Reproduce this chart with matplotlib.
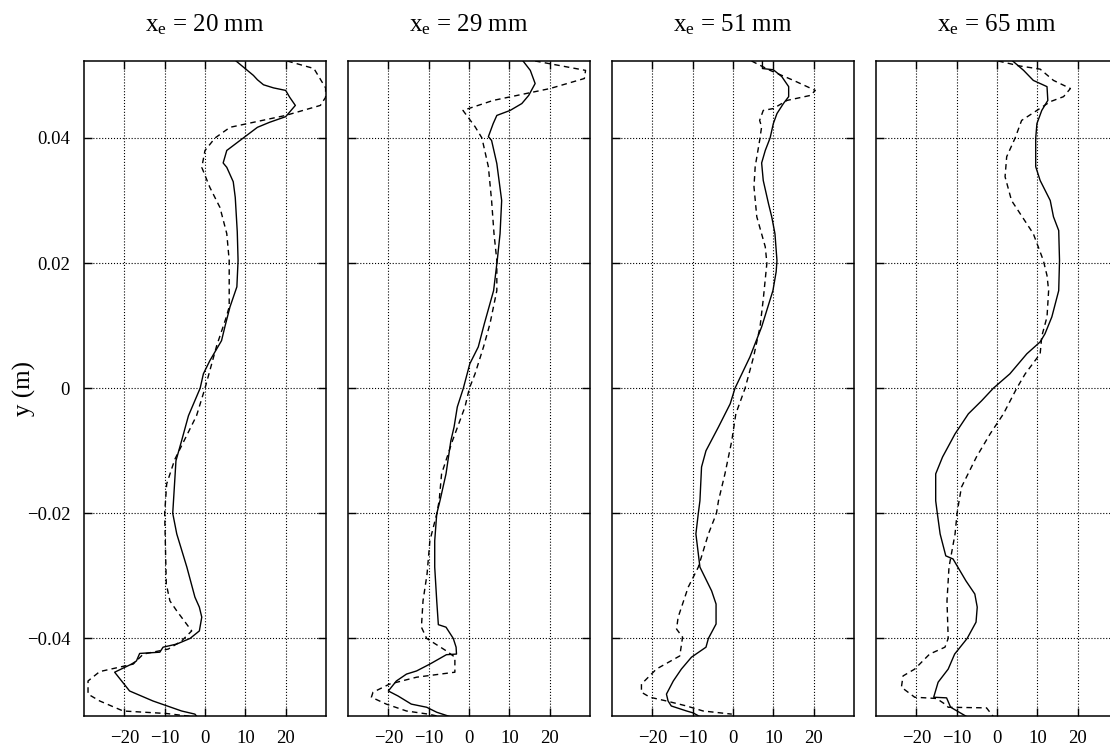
import matplotlib
matplotlib.use('Agg')
import matplotlib.pyplot as plt

plt.rcParams['font.family'] = ['Liberation Serif', 'DejaVu Serif']
plt.rcParams['mathtext.fontset'] = 'custom'
plt.rcParams['mathtext.rm'] = 'Liberation Serif'
plt.rcParams['mathtext.it'] = 'Liberation Serif:italic'

titles = ['x$_\\mathrm{e}$ = 20 mm', 'x$_\\mathrm{e}$ = 29 mm',
          'x$_\\mathrm{e}$ = 51 mm', 'x$_\\mathrm{e}$ = 65 mm']
xticks = [-20, -10, 0, 10, 20]
xtick_labels = ['\u221220', '\u221210', '0', '10', '20']
yticks = [-0.04, -0.02, 0, 0.02, 0.04]
ytick_labels = ['\u22120.04', '\u22120.02', '0', '0.02', '0.04']

# panel 1 (x_e = 20 mm)
y1_solid = [0.0523, 0.0500, 0.0493, 0.0485, 0.0480, 0.0476, 0.0465, 0.0452, 0.0434, 0.0425,
            0.0417, 0.0400, 0.0380, 0.0360, 0.0353, 0.0330, 0.0305, 0.0250, 0.0204, 0.0162,
            0.0130, 0.0100, 0.0076, 0.0044, 0.0023, 0.0000, -0.0044, -0.0084, -0.0116, -0.0200,
            -0.0233, -0.0286, -0.0334, -0.0350, -0.0366, -0.0388, -0.0400, -0.0409, -0.0414,
            -0.0422, -0.0424, -0.0436, -0.0441, -0.0454, -0.0484, -0.0500, -0.0516, -0.0521, -0.0525]
x1_solid = [7.7, 12, 13, 14.5, 17, 20, 21, 22.4, 20, 16,
            13, 9.5, 5.4, 4.5, 5.4, 7.0, 7.5, 8.0, 8.2, 7.9,
            6.2, 5.0, 4.1, 1.2, -0.4, -1.2, -4.1, -5.8, -7.2, -8.0,
            -7.0, -4.5, -2.5, -1.4, -0.8, -1.4, -3.7, -7.0, -10.4,
            -11.2, -16.2, -17.0, -18.2, -22.4, -18.7, -12.9, -5.8, -2.5, -2.0]
y1_dash = [0.0523, 0.0511, 0.0480, 0.0465, 0.0452, 0.0436, 0.0417, 0.0400, 0.0380, 0.0353,
           0.0321, 0.0289, 0.0247, 0.0204, 0.0162, 0.0130, 0.0110, 0.0068, 0.0000, -0.0044,
           -0.0114, -0.0153, -0.0200, -0.0313, -0.0340, -0.0356, -0.0388, -0.0404, -0.0417,
           -0.0425, -0.0441, -0.0453, -0.0468, -0.0489, -0.0500, -0.0516, -0.0520, -0.0525]
x1_dash = [20.4, 27, 29.9, 29.9, 28.6, 20, 6.2, 2.5, 0, -0.8,
           1.2, 3.7, 5.4, 6.0, 6.0, 6.0, 5.1, 2.9, 0, -2.1,
           -7.5, -9.5, -10, -9.6, -8.7, -7.0, -3.3, -5.8, -9.1,
           -15.3, -17.8, -26.1, -29, -29, -26.1, -20.3, -9.6, -3]

# panel 2 (x_e = 29 mm)
y2_solid = [0.0523, 0.0508, 0.0487, 0.0468, 0.0455, 0.0444, 0.0436, 0.0423, 0.0402, 0.0396,
            0.0359, 0.0300, 0.0247, 0.0204, 0.0156, 0.0103, 0.0066, 0.0039, 0.0000, -0.0030,
            -0.0062, -0.0084, -0.0137, -0.0180, -0.0201, -0.0244, -0.0286, -0.0340, -0.0378,
            -0.0382, -0.0400, -0.0414, -0.0425, -0.0426, -0.0441, -0.0452, -0.0457, -0.0468,
            -0.0484, -0.0492, -0.0505, -0.0510, -0.0518, -0.0525]
x2_solid = [13.4, 15.2, 16.4, 14.8, 13.1, 10.2, 6.9, 6.0, 4.8, 5.6,
            6.9, 8.1, 7.7, 7.0, 6.1, 3.8, 2.3, 0.2, -1.4, -2.9,
            -3.7, -4.5, -5.7, -7.2, -8.0, -8.5, -8.5, -8.0, -7.6,
            -5.7, -3.9, -3.2, -3.1, -5.6, -9.7, -13, -15.5, -18,
            -20, -17.6, -14.3, -10.5, -8, -4.7]
y2_dash = [0.0523, 0.0508, 0.0495, 0.0479, 0.0460, 0.0444, 0.0418, 0.0400, 0.0354, 0.0300,
           0.0247, 0.0204, 0.0156, 0.0103, 0.0066, 0.0023, 0.0000, -0.0030, -0.0084, -0.0137,
           -0.0180, -0.0201, -0.0244, -0.0297, -0.0340, -0.0382, -0.0400, -0.0420, -0.0430,
           -0.0454, -0.0462, -0.0473, -0.0486, -0.0494, -0.0505, -0.0516, -0.0521, -0.0525]
x2_dash = [16.4, 28.9, 28.6, 20.1, 6.0, -1.5, 1.5, 3.2, 4.8, 5.6,
           6.2, 6.9, 6.9, 5.2, 3.6, 1.5, 0.1, -1.0, -4.1, -6.8,
           -7.4, -8.0, -9.7, -10.4, -11.4, -11.8, -10.5, -5.6, -3.5,
           -3.5, -13, -19.7, -23.8, -24.2, -20.5, -15.5, -10.1, -7.2]

# panel 3 (x_e = 51 mm)
y3_solid = [0.0523, 0.0511, 0.0509, 0.0498, 0.0482, 0.0466, 0.0455, 0.0439, 0.0423, 0.0400,
            0.0380, 0.0360, 0.0332, 0.0295, 0.0274, 0.0247, 0.0204, 0.0186, 0.0156, 0.0098,
            0.0050, 0.0000, -0.0025, -0.0062, -0.0100, -0.0126, -0.0180, -0.0200, -0.0233,
            -0.0286, -0.0324, -0.0345, -0.0377, -0.0400, -0.0414, -0.0430, -0.0449, -0.0468,
            -0.0489, -0.0500, -0.0508, -0.0516, -0.0519, -0.0525]
x3_solid = [7.3, 7.3, 10, 12.1, 13.8, 13.8, 12.5, 10.9, 10, 9.2,
            8.0, 7.1, 7.5, 8.8, 9.6, 10.4, 10.9, 10.7, 9.9, 7.1,
            4.2, 0.5, -0.7, -3.6, -6.7, -7.8, -8.2, -8.6, -9.2,
            -8.2, -5.3, -4.2, -4.2, -6.1, -6.7, -10.3, -12.8, -14.8,
            -16.5, -16.1, -15.3, -11.5, -9.9, -8.2]
y3_dash = [0.0523, 0.0508, 0.0492, 0.0476, 0.0468, 0.0460, 0.0447, 0.0444, 0.0428, 0.0418,
           0.0396, 0.0354, 0.0322, 0.0274, 0.0226, 0.0200, 0.0142, 0.0098, 0.0050, 0.0000,
           -0.0041, -0.0084, -0.0137, -0.0180, -0.0200, -0.0233, -0.0286, -0.0318, -0.0366,
           -0.0385, -0.0398, -0.0428, -0.0449, -0.0473, -0.0486, -0.0494, -0.0500, -0.0508,
           -0.0516, -0.0521]
x3_dash = [4.6, 9.2, 15, 20.4, 19.2, 13.4, 10, 7.5, 6.6, 7.1,
           6.6, 5.5, 5.2, 5.9, 8.0, 8.4, 7.5, 6.7, 5.1, 3.0,
           0.7, -0.3, -2.0, -3.6, -4.1, -6.1, -8.6, -11.1, -13.6,
           -14, -12.5, -13.2, -19, -22.7, -22.7, -20.6, -16.5, -11.5,
           -7.4, -0.3]

# panel 4 (x_e = 65 mm)
y4_solid = [0.0523, 0.0508, 0.0492, 0.0482, 0.0460, 0.0444, 0.0423, 0.0400, 0.0354, 0.0332,
            0.0300, 0.0274, 0.0252, 0.0204, 0.0156, 0.0114, 0.0087, 0.0074, 0.0055, 0.0023,
            0.0000, -0.0020, -0.0041, -0.0073, -0.0110, -0.0137, -0.0180, -0.0200, -0.0233,
            -0.0268, -0.0273, -0.0308, -0.0329, -0.0350, -0.0374, -0.0400, -0.0425, -0.0449,
            -0.0470, -0.0494, -0.0495, -0.0510, -0.0525]
x4_solid = [3.9, 6.6, 9.0, 12.4, 12.6, 11.1, 9.9, 9.6, 9.6, 10.7,
            13.2, 14.0, 15.3, 15.5, 15.3, 13.6, 11.9, 10.7, 7.4, 3.2,
            -0.9, -3.8, -7.1, -10.4, -13.5, -15.2, -15.2, -14.8, -14.1,
            -12.7, -10.9, -7.7, -5.5, -4.9, -5.2, -7.4, -10.5, -12.1,
            -14.6, -15.7, -12.5, -11.5, -7.5]
y4_dash = [0.0523, 0.0515, 0.0510, 0.0492, 0.0479, 0.0466, 0.0458, 0.0444, 0.0428, 0.0400,
           0.0370, 0.0338, 0.0300, 0.0247, 0.0204, 0.0180, 0.0156, 0.0114, 0.0083, 0.0055,
           0.0023, 0.0000, -0.0041, -0.0073, -0.0110, -0.0158, -0.0180, -0.0200, -0.0233,
           -0.0286, -0.0340, -0.0400, -0.0414, -0.0425, -0.0449, -0.0460, -0.0478, -0.0494,
           -0.0496, -0.0505, -0.0510, -0.0511, -0.0525]
x4_dash = [0.3, 5.7, 10.7, 14.0, 18.2, 16.5, 13.2, 9.9, 6.1, 4.5,
           2.4, 2.0, 3.6, 9.0, 11.5, 12.4, 12.8, 12.4, 11.1, 10.7,
           7.0, 4.9, 1.6, -1.7, -5.1, -8.8, -9.4, -9.9, -10.4,
           -11.9, -12.4, -12.1, -12.9, -16.7, -20.4, -23.3, -23.7, -20.4,
           -15, -12.9, -12.1, -2.6, -0.9]

solids = [(x1_solid, y1_solid), (x2_solid, y2_solid), (x3_solid, y3_solid), (x4_solid, y4_solid)]
dashes = [(x1_dash, y1_dash), (x2_dash, y2_dash), (x3_dash, y3_dash), (x4_dash, y4_dash)]

W, H = 1110, 752
fig = plt.figure(figsize=(W / 100, H / 100), dpi=100)

for i in range(4):
    # last panel runs past the right edge of the picture, like the original
    left = 84 + 264 * i
    ax = fig.add_axes([left / W, 36 / H, 242 / W, 655 / H])
    ax.plot(solids[i][0], solids[i][1], color='black', lw=1.0)
    ax.plot(dashes[i][0], dashes[i][1], color='black', lw=1.0, linestyle=(0, (4, 3)))
    ax.set_xlim(-30, 30)
    ax.set_ylim(-0.0524, 0.0523)
    ax.set_xticks(xticks)
    ax.set_xticklabels(xtick_labels)
    ax.set_yticks(yticks)
    if i == 0:
        ax.set_yticklabels(ytick_labels)
    else:
        ax.set_yticklabels([])
    ax.tick_params(direction='in', length=6, width=1, top=True, right=True,
                   labelsize=13.5, pad=10)
    ax.grid(True, linestyle=':', color='black', lw=0.8)
    for s in ax.spines.values():
        s.set_linewidth(1.1)
    ax.set_title(titles[i], fontsize=18, pad=21)

fig.text(24 / W, (H - 388) / H, 'y (m)', rotation=90, fontsize=18, ha='center', va='center')

fig.savefig('out.png', dpi=100)
